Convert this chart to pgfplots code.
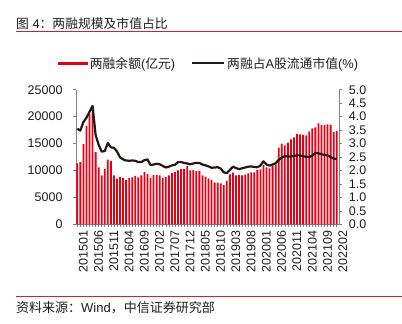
\documentclass[border=0pt]{standalone}
\usepackage{fontspec}
\setmainfont{Liberation Sans}
\newfontfamily\cjk{Noto Sans CJK SC}
\usepackage{pgfplots}
\usepackage{pgfplotstable}
\pgfplotsset{compat=1.18}
\definecolor{barred}{RGB}{225,0,20}
\definecolor{linedark}{RGB}{35,24,21}
\definecolor{axgray}{RGB}{130,130,130}
\definecolor{titlered}{RGB}{192,40,45}
\definecolor{footred}{RGB}{225,30,30}
\definecolor{txt}{RGB}{30,30,30}

\pgfplotstableread{
i bal ratio
0 11300 3.55
1 11550 3.48
2 14900 3.80
3 18300 3.96
4 20500 4.18
5 20800 4.40
6 13400 3.32
7 10550 2.95
8 9070 2.70
9 10300 2.72
10 12000 3.02
11 11750 2.86
12 9070 2.84
13 8500 2.71
14 8800 2.49
15 8640 2.41
16 8210 2.37
17 8640 2.36
18 8700 2.37
19 9010 2.36
20 8700 2.31
21 9070 2.32
22 9750 2.38
23 9380 2.41
24 8640 2.20
25 9140 2.22
26 9140 2.25
27 9070 2.23
28 8640 2.17
29 8770 2.11
30 9070 2.14
31 9510 2.19
32 9750 2.21
33 10000 2.31
34 10300 2.31
35 10300 2.28
36 10800 2.26
37 10000 2.23
38 10060 2.26
39 9880 2.28
40 9900 2.28
41 9100 2.22
42 8840 2.19
43 8540 2.15
44 8230 2.10
45 7730 2.11
46 7730 2.12
47 7600 2.07
48 7300 1.93
49 8040 1.90
50 9290 2.02
51 9600 2.14
52 9100 2.09
53 9160 2.05
54 9100 2.08
55 9220 2.11
56 9470 2.14
57 9650 2.15
58 9650 2.13
59 10090 2.12
60 10210 2.18
61 11010 2.34
62 10580 2.22
63 10400 2.18
64 10900 2.22
65 11150 2.27
66 14230 2.39
67 14980 2.48
68 14670 2.53
69 15170 2.52
70 15790 2.52
71 16160 2.54
72 16780 2.56
73 16720 2.56
74 16600 2.53
75 16530 2.51
76 17270 2.50
77 17830 2.55
78 18020 2.65
79 18760 2.64
80 18450 2.60
81 18450 2.58
82 18570 2.56
83 18450 2.50
84 17150 2.44
85 17330 2.43
}\datatable

\pgfplotsset{
  common/.style={
    at={(76bp,99.7bp)}, anchor=south west,
    width=263.3bp, height=134.6bp, scale only axis,
    xmin=-0.426, xmax=85.85,
    axis line style={axgray, line width=0.6bp},
    tick style={axgray, line width=0.6bp},
    tick align=outside,
    major tick length=3bp,
    minor tick length=2.5bp,
    tick label style={font=\fontsize{12.5bp}{14bp}\selectfont, text=txt},
    /pgf/number format/assume math mode=true,
  }
}

\begin{document}
\begin{tikzpicture}
\path[use as bounding box] (0,0) rectangle (402bp,324bp);
\node[anchor=west, inner sep=0pt, font=\fontsize{12.8bp}{14bp}\selectfont, text=txt] at (16bp,300bp) {{\cjk 图}~4{\cjk ：两融规模及市值占比}};
\draw[titlered, line width=0.8bp] (16bp,293bp) -- (402bp,293bp);
\draw[footred, line width=0.8bp] (16bp,28bp) -- (402bp,28bp);
\node[anchor=west, inner sep=0pt, font=\fontsize{13bp}{14bp}\selectfont, text=txt] at (16bp,16bp) {{\cjk 资料来源：}Wind{\cjk ，中信证券研究部}};

\begin{axis}[common,
  ymin=0, ymax=25000,
  axis y line*=left, axis x line*=bottom,
  ytick={0,5000,10000,15000,20000,25000},
  scaled y ticks=false,
  /pgf/number format/1000 sep={},
  y tick label style={xshift=-7bp},
  xtick={0,5,...,85},
  xticklabels={201501,201506,201511,201604,201609,201702,201707,201712,201805,201810,201903,201908,202001,202006,202011,202104,202109,202202},
  minor xtick={0,...,85},
  x tick label style={rotate=90, anchor=east, yshift=-6bp},
  legend columns=2,
  legend cell align=left,
  legend style={at={(0.505,1.196)}, anchor=center, draw=none, fill=none,
    font=\fontsize{12.8bp}{14bp}\selectfont, text=txt,
    /tikz/every even column/.append style={column sep=14bp}},
]
\addplot[fill=barred, draw=none, ybar, bar width=1.8bp,
  legend image code/.code={\fill[barred] (0bp,-1.75bp) rectangle (30bp,1.75bp);}]
  table[x=i, y=bal] {\datatable};
\addlegendentry{{\cjk 两融余额}({\cjk 亿元})}
\addlegendimage{legend image code/.code={\draw[linedark, line width=2bp] (0bp,0bp) -- (32bp,0bp);}}
\addlegendentry{{\cjk 两融占}A{\cjk 股流通市值}(\%)}
\end{axis}

\begin{axis}[common,
  ymin=0, ymax=5,
  axis y line*=right, axis x line=none,
  ytick={0,0.5,1,1.5,2,2.5,3,3.5,4,4.5,5},
  /pgf/number format/fixed,
  /pgf/number format/fixed zerofill,
  /pgf/number format/precision=1,
  y tick label style={xshift=3bp},
]
\addplot[linedark, line width=2.2bp, mark=none, line join=round] table[x=i, y=ratio] {\datatable};
\end{axis}
\end{tikzpicture}
\end{document}
